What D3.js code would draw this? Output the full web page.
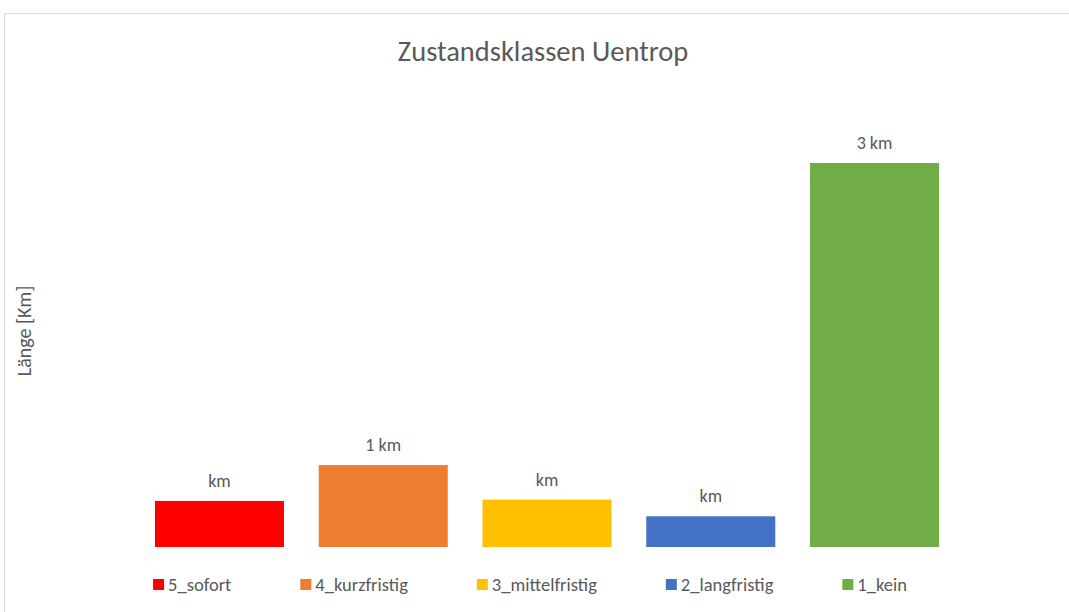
<!DOCTYPE html>
<html lang="de">
<head>
<meta charset="utf-8">
<title>Zustandsklassen Uentrop</title>
<script src="https://cdn.jsdelivr.net/npm/d3@7"></script>
<style>
  body { margin: 0; background: #fff; }
  text { font-family: Carlito, Calibri, Lato, sans-serif; fill: #595959; }
</style>
</head>
<body>
<script>
// Kategorien und Werte (Länge in km)
var categories = ["5_sofort", "4_kurzfristig", "3_mittelfristig", "2_langfristig", "1_kein"];
var values = [0.36, 0.64, 0.37, 0.24, 3.0];
var colors = ["#ff0000", "#ed7d31", "#ffc000", "#4472c4", "#70ad47"];

var width = 1069, height = 612;

var svg = d3.select("body").append("svg")
    .attr("width", width)
    .attr("height", height);

// Rahmen des Diagrammbereichs
svg.append("rect")
    .attr("x", 4.5).attr("y", 13.5)
    .attr("width", width + 10).attr("height", height + 10)
    .attr("fill", "none")
    .attr("stroke", "#d9d9d9");

var x = d3.scaleBand()
    .domain(categories)
    .range([137.6, 956.4])
    .paddingInner(0.212)
    .paddingOuter(0.106);

var y = d3.scaleLinear()
    .domain([0, 3.5])
    .range([547, 99]);

// Excel-Format "# km": Werte unter 0,5 zeigen nur "km"
function kmLabel(v) {
    var n = Math.round(v);
    return (n === 0 ? "" : n + " ") + "km";
}

svg.append("text")
    .attr("x", 543).attr("y", 61)
    .attr("text-anchor", "middle")
    .style("font-size", "28.5px")
    .style("font-weight", 300)
    .text("Zustandsklassen Uentrop");

svg.append("text")
    .attr("transform", "translate(31,331) rotate(-90)")
    .attr("text-anchor", "middle")
    .style("font-size", "20px")
    .text("Länge [Km]");

var bars = svg.selectAll(".bar")
    .data(categories)
    .enter().append("g")
    .attr("class", "bar");

bars.append("rect")
    .attr("x", function(d) { return x(d); })
    .attr("y", function(d, i) { return y(values[i]); })
    .attr("width", x.bandwidth())
    .attr("height", function(d, i) { return y(0) - y(values[i]); })
    .attr("fill", function(d, i) { return colors[i]; });

bars.append("text")
    .attr("x", function(d) { return x(d) + x.bandwidth() / 2; })
    .attr("y", function(d, i) { return y(values[i]) - 14; })
    .attr("text-anchor", "middle")
    .style("font-size", "18px")
    .text(function(d, i) { return kmLabel(values[i]); });

// Legende: Quadrat, Text, fester Abstand, insgesamt zentriert
var legend = svg.append("g");
var gap = 69;
var lx = 0;
categories.forEach(function(c, i) {
    var g = legend.append("g").attr("transform", "translate(" + lx + ",0)");
    g.append("rect")
        .attr("x", 0).attr("y", -6)
        .attr("width", 11).attr("height", 11)
        .attr("fill", colors[i]);
    var t = g.append("text")
        .attr("x", 15).attr("y", 0)
        .attr("dy", "0.35em")
        .style("font-size", "18.5px")
        .text(c);
    lx += 15 + t.node().getComputedTextLength() + gap;
});
var legendWidth = lx - gap;
legend.attr("transform", "translate(" + (530 - legendWidth / 2) + ",585)");
</script>
</body>
</html>
